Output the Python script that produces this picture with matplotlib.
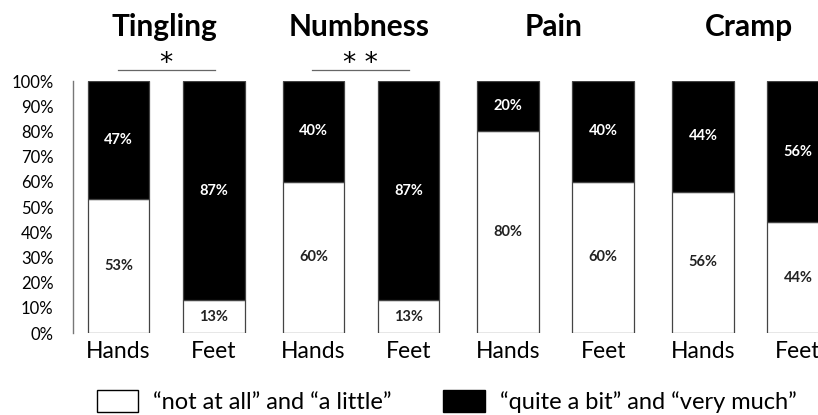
import matplotlib.pyplot as plt
from matplotlib.patches import Patch

plt.rcParams['font.family'] = ['Lato', 'DejaVu Sans']

symptoms = ['Tingling', 'Numbness', 'Pain', 'Cramp']
sites = ['Hands', 'Feet']
# % answering "not at all" / "a little"  (hands, feet)
low = [[53, 13], [60, 13], [80, 60], [56, 44]]
# % answering "quite a bit" / "very much"
high = [[47, 87], [40, 87], [20, 40], [44, 56]]
signif = ['*', '**', '', '']

fig = plt.figure(figsize=(8.18, 4.15), dpi=100)
ax = fig.add_axes([73 / 818, 82 / 415, 1 - 73 / 818, 252 / 415])

group_gap = 2.05
width = 0.65
pos = []
for g in range(len(symptoms)):
    for b in range(len(sites)):
        pos.append(g * group_gap + b)

lo = [v for pair in low for v in pair]
hi = [v for pair in high for v in pair]

ax.bar(pos, lo, width, color='white', edgecolor='#444444', linewidth=0.9)
ax.bar(pos, hi, width, bottom=lo, color='black', edgecolor='#444444', linewidth=0.9)

for x, l, h in zip(pos, lo, hi):
    ax.text(x, l / 2, f'{l}%', ha='center', va='center', fontsize=10.5,
            fontweight='bold', color='#222222')
    ax.text(x, l + h / 2, f'{h}%', ha='center', va='center', fontsize=10.5,
            fontweight='bold', color='white')

ax.set_ylim(0, 100)
ax.set_xlim(-0.48, pos[-1] + 0.21)
ax.set_yticks(range(0, 101, 10))
ax.set_yticklabels([f'{v}%' for v in range(0, 101, 10)], fontsize=12)
ax.set_xticks(pos)
ax.set_xticklabels(sites * len(symptoms), fontsize=16.5)
ax.tick_params(axis='both', length=0)
ax.tick_params(axis='y', pad=14)
ax.tick_params(axis='x', pad=6)
for s in ['top', 'right', 'bottom']:
    ax.spines[s].set_visible(False)
ax.spines['left'].set_color('#777777')
ax.spines['left'].set_linewidth(1.0)

for g, name in enumerate(symptoms):
    cx = g * group_gap + 0.5
    ax.text(cx - 0.02, 121.5, name, ha='center', va='center', fontsize=21.5,
            fontweight='bold', clip_on=False)
    if signif[g]:
        ax.plot([cx - 0.51, cx + 0.51], [104.5, 104.5], color='#666666',
                linewidth=0.9, clip_on=False)
        ax.text(cx, 103.8, ' '.join(signif[g]), ha='center', va='baseline',
                fontsize=19, family='DejaVu Sans', clip_on=False)

handles = [Patch(facecolor='white', edgecolor='black', linewidth=1.0),
           Patch(facecolor='black', edgecolor='black', linewidth=1.0)]
labels = ['\u201cnot at all\u201d and \u201ca little\u201d',
          '\u201cquite a bit\u201d and \u201cvery much\u201d']
fig.legend(handles, labels, loc='center', bbox_to_anchor=(0.546, 0.032),
           ncol=2, frameon=False, fontsize=17, handlelength=1.74,
           handleheight=1.0, handletextpad=0.65, columnspacing=2.2)

fig.savefig('out.png', dpi=100)
